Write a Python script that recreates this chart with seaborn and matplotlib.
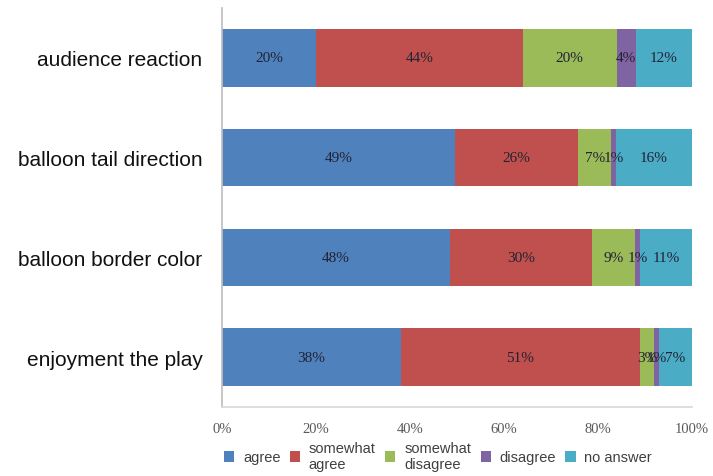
import numpy as np
import pandas as pd
import matplotlib
matplotlib.use("Agg")
import matplotlib.pyplot as plt
from matplotlib.patches import Patch
import seaborn as sns

categories = ["audience reaction", "balloon tail direction", "balloon border color", "enjoyment the play"]
series = ["agree", "somewhat\nagree", "somewhat\ndisagree", "disagree", "no answer"]
agree = [20, 49, 48, 38]
somewhat_agree = [44, 26, 30, 51]
somewhat_disagree = [20, 7, 9, 3]
disagree = [4, 1, 1, 1]
no_answer = [12, 16, 11, 7]
xtick_labels = ["0%", "20%", "40%", "60%", "80%", "100%"]
colors = ["#4F81BD", "#C0504D", "#9BBB59", "#8064A2", "#4BACC6"]

sns.set_theme(style="white")
plt.rcParams['font.family'] = ['Liberation Sans', 'DejaVu Sans']

vals = np.array([agree, somewhat_agree, somewhat_disagree, disagree, no_answer], dtype=float)
totals = vals.sum(axis=0)
pct = vals / totals * 100
cum = np.cumsum(pct, axis=0)

fig = plt.figure(figsize=(7.13, 4.77), dpi=100)
ax = fig.add_axes([222/713, 1-408/477, 470/713, 399/477])

for i in range(len(series) - 1, -1, -1):
    df = pd.DataFrame({"cat": categories, "val": cum[i]})
    sns.barplot(data=df, x="val", y="cat", color=colors[i], width=0.575,
                saturation=1, ax=ax, orient="h", linewidth=0)

for i in range(len(series)):
    for j, c in enumerate(categories):
        start = cum[i - 1][j] if i > 0 else 0
        ax.text((start + cum[i][j]) / 2, j, f"{int(vals[i][j])}%", ha="center", va="center",
                fontsize=11, family="Liberation Serif", color="#222233")

ax.set_xlim(0, 100)
ax.set_ylim(3.5, -0.5)
ax.set_xticks([0, 20, 40, 60, 80, 100])
ax.set_xticklabels(xtick_labels, family="Liberation Serif", fontsize=10.5, color="#595959")
ax.tick_params(axis="x", length=0, pad=11)
ax.tick_params(axis="y", length=0, pad=14, labelsize=15, labelcolor="#111111")
ax.set_xlabel("")
ax.set_ylabel("")
for s in ["top", "right"]:
    ax.spines[s].set_visible(False)
ax.spines["left"].set_color("#BFBFBF")
ax.spines["bottom"].set_color("#D9D9D9")

handles = [Patch(facecolor=c, edgecolor="none") for c in colors]
leg = fig.legend(handles, series, loc="center", bbox_to_anchor=(438/713, 1-457/477), ncol=5,
                 frameon=False, fontsize=10.5, handlelength=0.7, handleheight=0.7,
                 handletextpad=0.6, columnspacing=0.65, labelcolor="#404040")

fig.savefig("out.png", dpi=100)
